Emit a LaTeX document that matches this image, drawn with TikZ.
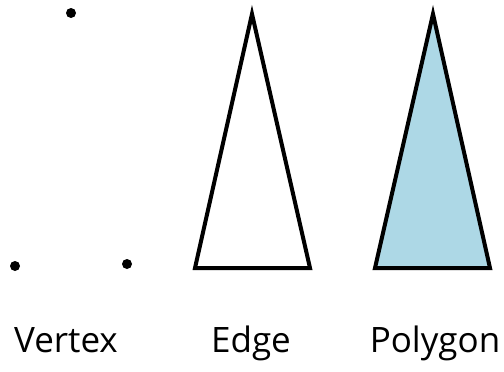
\documentclass[tikz,border=0pt]{standalone}
\usepackage{fontspec}
\setmainfont{Open Sans}
\usepackage{tikz}
\usetikzlibrary{positioning}
\definecolor{polyblue}{RGB}{173,216,230}

\begin{document}
\begin{tikzpicture}[x=1pt,y=-1pt]
  \tikzset{
    vertexdot/.style={fill=black},
    edgeline/.style={draw=black, line width=4pt, line join=miter},
    caption/.style={font=\fontsize{35}{40}\selectfont, anchor=base}
  }
\useasboundingbox (0,0) rectangle (504,372);
% vertices only
\coordinate (v1) at (71,13);
\coordinate (v2) at (15,266);
\coordinate (v3) at (127,264);
\fill[vertexdot] (v1) circle (5pt);
\fill[vertexdot] (v2) circle (5pt);
\fill[vertexdot] (v3) circle (5pt);

% edges
\coordinate (e1) at (252,14);
\coordinate (e2) at (195,268);
\coordinate (e3) at (310,268);
\draw[edgeline] (e1)--(e2)--(e3)--cycle;

% polygon
\coordinate (p1) at (433,14);
\coordinate (p2) at (375,268);
\coordinate (p3) at (490,268);
\filldraw[edgeline, fill=polyblue] (p1)--(p2)--(p3)--cycle;

\node[caption] (vertex) at (66,352) {Vertex};
\node[caption] (edge) at (251,352) {Edge};
\node[caption] (polygon) at (435,352) {Polygon};
\end{tikzpicture}
\end{document}
